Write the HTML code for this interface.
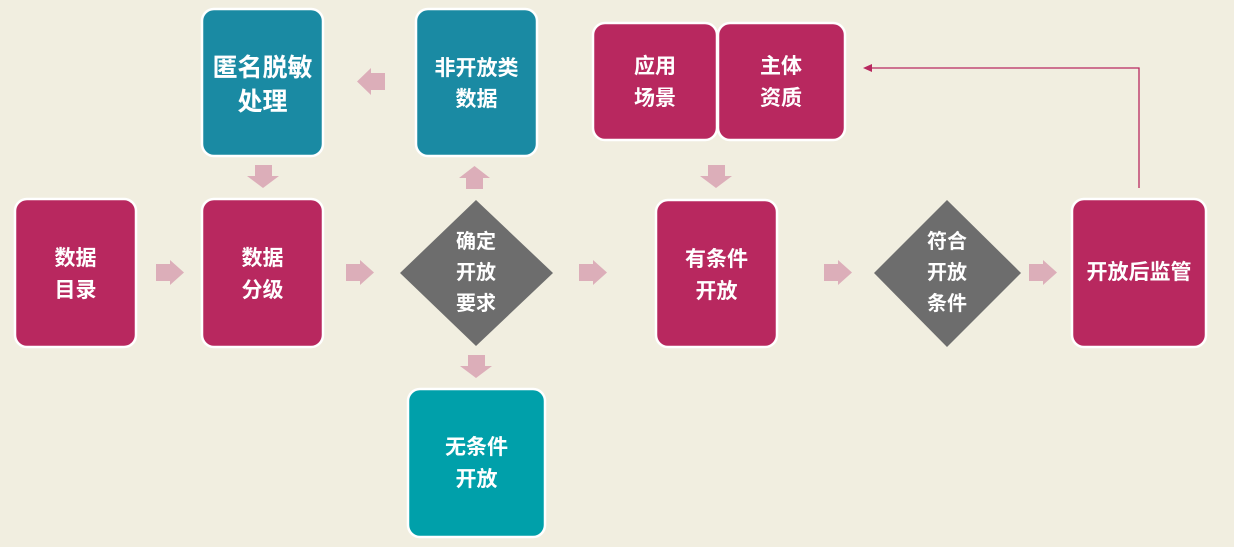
<!DOCTYPE html>
<html><head><meta charset="utf-8"><style>
html,body{margin:0;padding:0;background:#f1eee0;}
svg{display:block;}
text{font-family:"Liberation Sans","Noto Sans CJK SC",sans-serif;font-weight:bold;fill:#fff;text-anchor:middle;}
</style></head><body>
<svg width="1234" height="547" viewBox="0 0 1234 547">
<rect width="1234" height="547" fill="#f1eee0"/>
<g stroke="#fff" stroke-width="2.5">
<rect x="15" y="199" width="121" height="148" rx="12" fill="#b8285f"/>
<rect x="202" y="199" width="121" height="148" rx="12" fill="#b8285f"/>
<rect x="202" y="9" width="121" height="147" rx="12" fill="#1a8aa3"/>
<rect x="416" y="9" width="121" height="147" rx="12" fill="#1a8aa3"/>
<rect x="408" y="389" width="137" height="148" rx="12" fill="#00a0aa"/>
<rect x="593" y="23" width="124" height="117" rx="12" fill="#b8285f"/>
<rect x="718" y="23" width="127" height="117" rx="12" fill="#b8285f"/>
<rect x="656" y="200" width="121" height="147" rx="12" fill="#b8285f"/>
<rect x="1072" y="199" width="134" height="148" rx="12" fill="#b8285f"/>
</g>
<polygon points="476,200 553,273 476,346 400,273" fill="#6d6d6d"/>
<polygon points="947,200 1021,273 947,347 874,273" fill="#6d6d6d"/>
<g fill="#dcaeb9">
<polygon points="156,264 170,264 170,260 184,272.5 170,285 170,281 156,281"/>
<polygon points="346,264 360,264 360,260 374,272.5 360,285 360,281 346,281"/>
<polygon points="579,264 593,264 593,260 607,272.5 593,285 593,281 579,281"/>
<polygon points="824,264 838,264 838,260 852,272.5 838,285 838,281 824,281"/>
<polygon points="1029,264 1043,264 1043,260 1057,272.5 1043,285 1043,281 1029,281"/>
<polygon points="385,73 371,73 371,68 357,81.5 371,95 371,90 385,90"/>
<polygon points="255,165 272,165 272,176 279,176 263,188 247,176 255,176"/>
<polygon points="708,165 725,165 725,176 732,176 716,188 700,176 708,176"/>
<polygon points="468,355 485,355 485,366 492,366 476,378 460,366 468,366"/>
<polygon points="466,189 483,189 483,178 490,178 474.5,166 459,178 466,178"/>
</g>
<polyline points="1139,188 1139,68 870,68" fill="none" stroke="#b8285f" stroke-width="1.3"/>
<polygon points="863,68 872,64 872,72" fill="#b8285f"/>
<g font-size="21">
<text x="75.5" y="265">数据</text><text x="75.5" y="297">目录</text>
<text x="262.5" y="265">数据</text><text x="262.5" y="297">分级</text>
<text x="262.5" y="76" font-size="25">匿名脱敏</text><text x="262.5" y="110" font-size="25">处理</text>
<text x="476.5" y="75">非开放类</text><text x="476.5" y="106">数据</text>
<text x="476.5" y="454">无条件</text><text x="476.5" y="486">开放</text>
<text x="655" y="73">应用</text><text x="655" y="105">场景</text>
<text x="781" y="73">主体</text><text x="781" y="105">资质</text>
<text x="716.5" y="266">有条件</text><text x="716.5" y="298">开放</text>
<text x="1139" y="279">开放后监管</text>
</g>
<g font-size="20">
<text x="476" y="248">确定</text><text x="476" y="279">开放</text><text x="476" y="310">要求</text>
<text x="947" y="248">符合</text><text x="947" y="279">开放</text><text x="947" y="310">条件</text>
</g>
</svg>
</body></html>
